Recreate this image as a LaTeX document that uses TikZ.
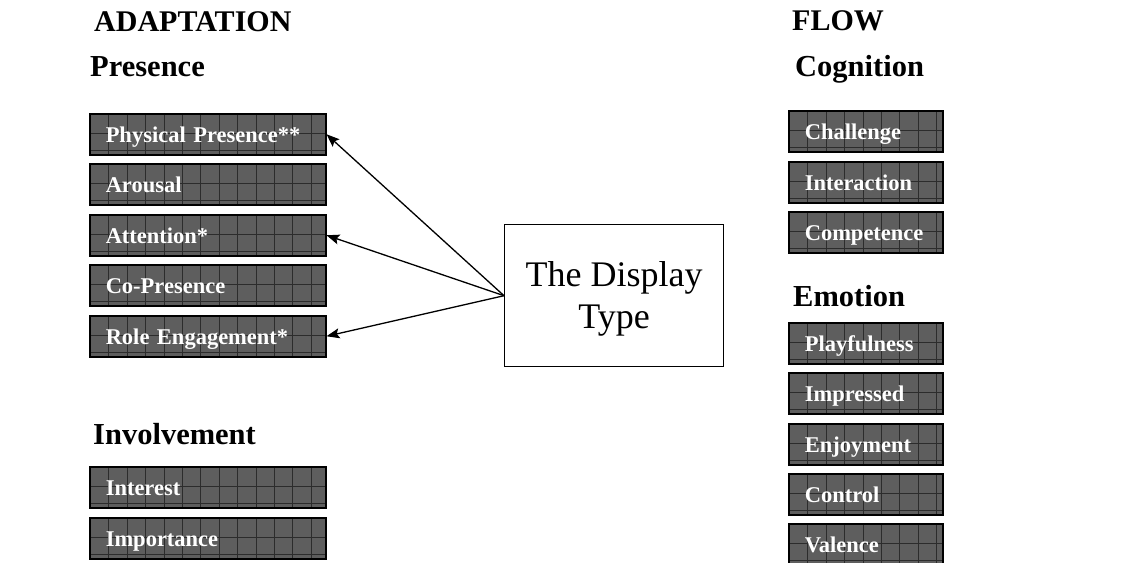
\documentclass[tikz,border=0pt]{standalone}
\usepackage{fontspec}
\setmainfont{Liberation Serif}
\usetikzlibrary{arrows.meta}
\definecolor{boxfill}{HTML}{5E5E5E}
\definecolor{gridcol}{HTML}{2C2C2C}
\tikzset{
  gbox/.style={draw=black, line width=1.5pt, fill=boxfill, anchor=north west,
    minimum height=41pt, inner xsep=16pt, inner ysep=0pt, text=white,
    text height=19pt, text depth=2pt,
    font=\fontsize{22.5}{27}\selectfont\bfseries,
    path picture={
      \foreach \i in {0,...,12}{
        \draw[gridcol, line width=0.8pt]
          ([xshift=19pt+\i*18.4pt]path picture bounding box.north west) --
          ([xshift=19pt+\i*18.4pt]path picture bounding box.south west);
      }
      \draw[gridcol, line width=0.8pt]
        ([yshift=-20pt]path picture bounding box.north west) --
        ([yshift=-20pt]path picture bounding box.north east);
      \draw[gridcol, line width=0.8pt]
        ([yshift=4pt]path picture bounding box.south west) --
        ([yshift=4pt]path picture bounding box.south east);
    }},
  lbox/.style={gbox, minimum width=236pt, text width=236pt-32pt},
  rbox/.style={gbox, minimum width=154pt, text width=154pt-32pt},
  head/.style={anchor=base west, inner sep=0pt, font=\fontsize{30.5}{36}\selectfont\bfseries},
  bighead/.style={anchor=base west, inner sep=0pt, font=\fontsize{30}{35}\selectfont\bfseries},
  arr/.style={line width=1.3pt, -{Stealth[length=13pt,width=10pt,inset=2.5pt]}},
  disp/.style={draw=black, line width=1.4pt, anchor=north west, minimum width=219pt,
    minimum height=142pt, align=center, inner sep=0pt, font=\fontsize{36}{42}\selectfont}
}
\begin{document}
\begin{tikzpicture}[x=1pt,y=-1pt]
\useasboundingbox (0,0) rectangle (1140,562);
% headings
\node[bighead] (adapt) at (94,31) {ADAPTATION};
\node[bighead] (flow) at (792,30) {FLOW};
\node[head] (pres) at (90,76) {Presence};
\node[head] (cogn) at (795,76) {Cognition};
\node[head] (emot) at (793,306) {Emotion};
\node[head] (invo) at (93,444) {Involvement};
% left boxes
\node[lbox] (pp) at (89,113) {Physical Presence**};
\node[lbox] (ar) at (89,163) {Arousal};
\node[lbox] (at) at (89,214) {Attention*};
\node[lbox] (cp) at (89,264) {Co-Presence};
\node[lbox] (re) at (89,315) {Role Engagement*};
\node[lbox] (in) at (89,466) {Interest};
\node[lbox] (im) at (89,517) {Importance};
% right boxes
\node[rbox] (ch) at (788,110) {Challenge};
\node[rbox] (ia) at (788,161) {Interaction};
\node[rbox] (co) at (788,211) {Competence};
\node[rbox] (pl) at (788,322) {Playfulness};
\node[rbox] (ip) at (788,372) {Impressed};
\node[rbox] (en) at (788,423) {Enjoyment};
\node[rbox] (ct) at (788,473) {Control};
\node[rbox] (va) at (788,523) {Valence};
% display type
\node[disp] (dt) at (504,224) {\rule{0pt}{31pt}The Display\\Type};
% arrows
\draw[arr] (dt.west) -- (pp.east);
\draw[arr] (dt.west) -- (at.east);
\draw[arr] (dt.west) -- (re.east);
\end{tikzpicture}
\end{document}
